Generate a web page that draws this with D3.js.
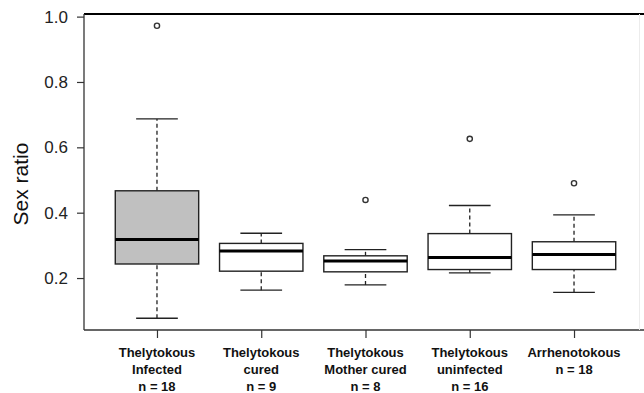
<!DOCTYPE html>
<html>
<head>
<meta charset="utf-8">
<script src="https://cdn.jsdelivr.net/npm/d3@7"></script>
<style>
  html, body { margin: 0; padding: 0; background: #fff; }
  svg { display: block; font-family: "Liberation Sans", Arial, Helvetica, sans-serif; }
</style>
</head>
<body>
<div id="chart"></div>
<script>
// group labels (one entry per line) and sample sizes
var categories = [
  ["Thelytokous", "Infected"],
  ["Thelytokous", "cured"],
  ["Thelytokous", "Mother cured"],
  ["Thelytokous", "uninfected"],
  ["Arrhenotokous"]
];
var sample_sizes = [18, 9, 8, 16, 18];

// box statistics
var lower_whisker = [0.077, 0.163, 0.179, 0.216, 0.156];
var lower_quartile = [0.243, 0.221, 0.219, 0.226, 0.226];
var medians = [0.318, 0.283, 0.252, 0.263, 0.272];
var upper_quartile = [0.467, 0.306, 0.268, 0.336, 0.311];
var upper_whisker = [0.687, 0.337, 0.287, 0.422, 0.393];
var outliers = [[0.972], [], [0.439], [0.626], [0.490]];
var box_fills = ["#c0c0c0", "#ffffff", "#ffffff", "#ffffff", "#ffffff"];

var y_ticks = [0.2, 0.4, 0.6, 0.8, 1.0];
var y_label = "Sex ratio";

var width = 644, height = 393;

var svg = d3.select("#chart").append("svg")
  .attr("width", width)
  .attr("height", height);

// R style ranges: 1..n, padded by 0.5 then 4%
var x = d3.scaleLinear().domain([0.3, categories.length + 0.7]).range([84, 647]);
var y = d3.scaleLinear().domain([0.041, 1.008]).range([330, 14]);

var box_half = (x(1.4) - x(1)) ;
var cap_half = box_half / 2;

// frame (right side falls outside the picture)
svg.append("line")
  .attr("x1", x.range()[0]).attr("x2", width)
  .attr("y1", y.range()[1]).attr("y2", y.range()[1])
  .attr("stroke", "#000").attr("stroke-width", 2);
svg.append("line")
  .attr("x1", x.range()[0]).attr("x2", width)
  .attr("y1", y.range()[0]).attr("y2", y.range()[0])
  .attr("stroke", "#333").attr("stroke-width", 1.3);
svg.append("line")
  .attr("x1", 639.5).attr("x2", 639.5)
  .attr("y1", y.range()[1]).attr("y2", y.range()[0])
  .attr("stroke", "#ececec").attr("stroke-width", 1);

// y axis
var y_axis = svg.append("g")
  .attr("transform", "translate(" + x.range()[0] + ",0)")
  .call(d3.axisLeft(y).tickValues(y_ticks).tickFormat(d3.format(".1f")).tickSize(7).tickPadding(9));
y_axis.select(".domain").attr("stroke", "#333").attr("stroke-width", 1.3)
  .attr("d", "M0," + y.range()[1] + "V" + y.range()[0]);
y_axis.selectAll(".tick line").attr("stroke", "#333").attr("stroke-width", 1.2);
y_axis.selectAll(".tick text")
  .attr("fill", "#222")
  .style("font-size", "17px");

svg.append("text")
  .attr("transform", "translate(28,184) rotate(-90)")
  .attr("text-anchor", "middle")
  .attr("fill", "#111")
  .style("font-size", "21px")
  .text(y_label);

// x axis ticks + labels
var x_axis = svg.append("g")
  .attr("transform", "translate(0," + y.range()[0] + ")")
  .call(d3.axisBottom(x).tickValues(d3.range(1, categories.length + 1)).tickSize(8).tickFormat(""));
x_axis.select(".domain").remove();
x_axis.selectAll(".tick line").attr("stroke", "#333").attr("stroke-width", 1.2);

categories.forEach(function(lines, i){
  var label = svg.append("text")
    .attr("text-anchor", "middle")
    .attr("fill", "#111")
    .style("font-size", "13px")
    .style("font-weight", "bold");
  lines.concat(["n = " + sample_sizes[i]]).forEach(function(line, j){
    label.append("tspan")
      .attr("x", x(i + 1))
      .attr("y", 357 + j * 17)
      .text(line);
  });
});

// boxes
categories.forEach(function(lines, i){
  var cx = x(i + 1);
  var g = svg.append("g").attr("class", "box");

  // whiskers
  [[lower_whisker[i], lower_quartile[i]], [upper_quartile[i], upper_whisker[i]]].forEach(function(w){
    g.append("line")
      .attr("x1", cx).attr("x2", cx)
      .attr("y1", y(w[0])).attr("y2", y(w[1]))
      .attr("stroke", "#222").attr("stroke-width", 1.3)
      .attr("stroke-dasharray", "4,3");
  });
  [lower_whisker[i], upper_whisker[i]].forEach(function(v){
    g.append("line")
      .attr("x1", cx - cap_half).attr("x2", cx + cap_half)
      .attr("y1", y(v)).attr("y2", y(v))
      .attr("stroke", "#222").attr("stroke-width", 1.3);
  });

  g.append("rect")
    .attr("x", cx - box_half)
    .attr("y", y(upper_quartile[i]))
    .attr("width", box_half * 2)
    .attr("height", y(lower_quartile[i]) - y(upper_quartile[i]))
    .attr("fill", box_fills[i])
    .attr("stroke", "#222").attr("stroke-width", 1.4);

  g.append("line")
    .attr("x1", cx - box_half).attr("x2", cx + box_half)
    .attr("y1", y(medians[i])).attr("y2", y(medians[i]))
    .attr("stroke", "#000").attr("stroke-width", 3);

  g.selectAll("circle.out").data(outliers[i]).enter().append("circle")
    .attr("class", "out")
    .attr("cx", cx)
    .attr("cy", function(d){ return y(d); })
    .attr("r", 2.6)
    .attr("fill", "none")
    .attr("stroke", "#333").attr("stroke-width", 1.4);
});
</script>
</body>
</html>
